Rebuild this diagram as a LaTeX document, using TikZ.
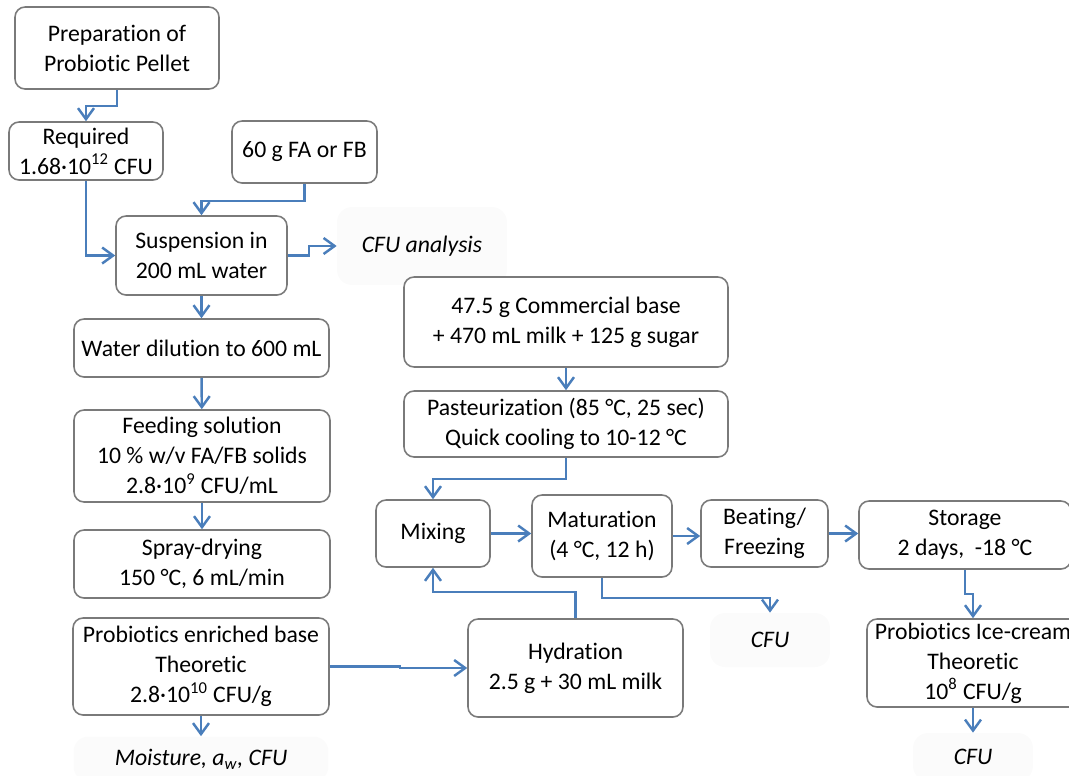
\documentclass[tikz,border=0pt]{standalone}
\usepackage{fontspec}
\setmainfont{Carlito}[Ligatures=NoCommon]
\usetikzlibrary{arrows.meta, positioning}
\definecolor{flowblue}{HTML}{4A7EBB}
\definecolor{boxgray}{HTML}{7A7A7A}
\newcommand{\flowfont}{\fontsize{13.5}{17}\selectfont}
\tikzset{>={Straight Barb[length=2.2mm,width=3.2mm]},
  box/.style={draw=boxgray, line width=0.9pt, rounded corners=0.2cm, fill=white, align=center, inner sep=0pt},
  note/.style={fill=black!1.5, rounded corners=0.3cm, align=center, inner sep=0pt, font=\flowfont\itshape},
  link/.style={->, draw=flowblue, line width=1.4pt}}

\begin{document}
\begin{tikzpicture}[x=0.02cm, y=-0.02cm, font=\flowfont]
\useasboundingbox (0,0) rectangle (1069,775);
\node[box, minimum width=4.08cm, minimum height=1.64cm] (prep) at (117,48) {Preparation of\\Probiotic Pellet};
\node[box, minimum width=3.08cm, minimum height=1.16cm] (req) at (86,151) {Required\\1.68·10\textsuperscript{12} CFU};
\node[box, minimum width=2.9cm, minimum height=1.24cm] (fafb) at (304.5,152) {60 g FA or FB};
\node[box, minimum width=3.42cm, minimum height=1.58cm] (susp) at (201.5,255.5) {Suspension in\\200 mL water};
\node[note, minimum width=3.4cm, minimum height=1.56cm] (cfua) at (422,246) {CFU analysis};
\node[box, minimum width=5.1cm, minimum height=1.16cm] (dil) at (201.5,348) {Water dilution to 600 mL};
\node[box, minimum width=5.12cm, minimum height=1.84cm] (feed) at (202,456) {Feeding solution\\10 \% w/v FA/FB solids\\2.8·10\textsuperscript{9} CFU/mL};
\node[box, minimum width=5.12cm, minimum height=1.36cm] (spray) at (202,564) {Spray-drying\\150 °C, 6 mL/min};
\node[box, minimum width=5.12cm, minimum height=1.94cm] (enr) at (201,666.5) {Probiotics enriched base\\Theoretic\\2.8·10\textsuperscript{10} CFU/g};
\node[note, minimum width=5.1cm, minimum height=0.9cm] (moist) at (201,759) {Moisture, a\textsubscript{w}, CFU};
\node[box, minimum width=6.48cm, minimum height=1.8cm] (base) at (566,322) {47.5 g Commercial base\\+ 470 mL milk + 125 g sugar};
\node[box, minimum width=6.48cm, minimum height=1.32cm] (past) at (566,424) {Pasteurization (85 °C, 25 sec)\\Quick cooling to 10-12 °C};
\node[box, minimum width=2.28cm, minimum height=1.34cm] (mix) at (433,533.5) {Mixing};
\node[box, minimum width=2.8cm, minimum height=1.64cm] (mat) at (602,536) {Maturation\\(4 °C, 12 h)};
\node[box, minimum width=2.54cm, minimum height=1.34cm] (beat) at (764.5,533.5) {Beating/\\Freezing};
\node[box, minimum width=4.24cm, minimum height=1.36cm] (stor) at (965,535) {Storage\\2 days,~~-18 °C};
\node[box, minimum width=4.24cm, minimum height=1.76cm] (ice) at (973,663) {Probiotics Ice-cream\\Theoretic\\10\textsuperscript{8} CFU/g};
\node[box, minimum width=4.3cm, minimum height=1.96cm] (hyd) at (575.5,668) {Hydration\\2.5 g + 30 mL milk};
\node[note, minimum width=2.4cm, minimum height=1.08cm] (cfu1) at (770,640) {CFU};
\node[note, minimum width=2.4cm, minimum height=0.96cm] (cfu2) at (973,757) {CFU};

\draw[link] (prep.south) -- ++(0,16) -| (req.north);
\draw[link] (fafb.south) -- ++(0,17) -| (susp.north);
\draw[link] (req.south) |- (susp.west);
\draw[link] (susp.east) -- ++(21,0) |- (cfua.west);
\draw[link] (susp) -- (dil);
\draw[link] (dil) -- (feed);
\draw[link] (feed) -- (spray);
\draw[link] (enr) -- (moist);
\draw[link] (enr.east) -- ++(70,0) |- (hyd.west);
\draw[link] (base) -- (past);
\draw[link] (past.south) -- ++(0,21) -| (mix.north);
\draw[link] (mix.east) -- (mix.east -| mat.west);
\draw[link] (mat.east) -- (mat.east -| beat.west);
\draw[link] (beat.east) -- (beat.east -| stor.west);
\draw[link] (stor.south) -- ++(0,24) -| (ice.north);
\draw[link] (ice) -- (cfu2);
\draw[link] (mat.south) -- ++(0,20) -| (cfu1.north);
\draw[link] (hyd.north) -- ++(0,-26) -| (mix.south);
\end{tikzpicture}
\end{document}
